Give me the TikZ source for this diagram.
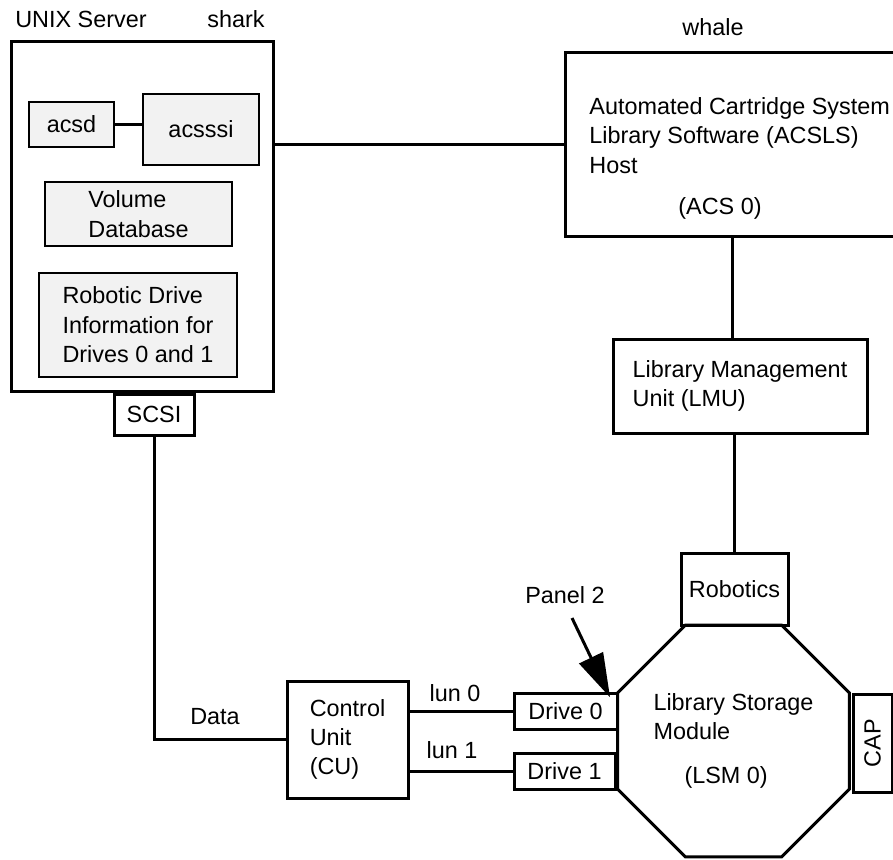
\documentclass[tikz,border=0pt]{standalone}
\usepackage{fontspec}
\setmainfont{Liberation Sans}
\usetikzlibrary{shapes.geometric,arrows.meta}
\definecolor{boxgray}{gray}{0.95}
\tikzset{
  txt/.style={font=\fontsize{11.7}{14.7}\selectfont,inner sep=0pt},
  box/.style={draw,line width=1.5pt},
  graybox/.style={draw,fill=boxgray,line width=1.3pt},
  wire/.style={line width=1.5pt},
}

\begin{document}
\begin{tikzpicture}[x=0.5pt,y=-0.5pt,every node/.style={txt}]
    \useasboundingbox (0,0) rectangle (893,859);
    \clip (0,0) rectangle (893,859);

        \node[anchor=base] (unix) at (81,27) {UNIX Server};
        \node[anchor=base] (shark) at (236,27) {shark};
        \node[anchor=base] (whale) at (713,35) {whale};

        \node[box,minimum width=131pt,minimum height=175pt] (server) at (142,216) {};
        \node[graybox,minimum width=42.5pt,minimum height=22.5pt] (acsd) at (71.5,124.5) {acsd};
        \node[graybox,minimum width=58pt,minimum height=35.5pt] (acsssi) at (201,129.5) {acsssi};
        \node[graybox,minimum width=93.5pt,minimum height=32pt,align=left] (voldb) at (138.5,214) {Volume\\Database};
        \node[graybox,minimum width=99pt,minimum height=52pt,align=left] (drvinfo) at (138,325) {Robotic Drive\\Information for\\Drives 0 and 1};
        \node[box,minimum width=40pt,minimum height=20.5pt] (scsi) at (154,414.5) {SCSI};

        \node[box,minimum width=167.5pt,minimum height=92pt] (host) at (732.5,144) {};
        \node[anchor=north west,align=left] (hosttxt) at (589,97) {Automated Cartridge System\\Library Software (ACSLS)\\Host};
        \node (acs) at (720,208) {(ACS 0)};
        \node[box,minimum width=127pt,minimum height=47pt,align=left] (lmu) at (740,386) {Library Management\\Unit (LMU)};
        \node[box,minimum width=53.5pt,minimum height=36pt] (robotics) at (734.5,589) {Robotics};
        \node[draw,line width=1.5pt,regular polygon,regular polygon sides=8,minimum size=125.5pt,align=left] (lsm) at (733.5,741) {Library Storage\\Module\\[7.5pt]\hspace*{15.5pt}(LSM 0)};
        \node[box,minimum width=49pt,minimum height=19.5pt,rotate=90] (cap) at (872.5,743) {CAP};

        \node[box,minimum width=51.5pt,minimum height=18pt] (drive0) at (565.5,711) {Drive 0};
        \node[box,minimum width=50.5pt,minimum height=18pt] (drive1) at (564.5,771) {Drive 1};
        \node[box,minimum width=60.5pt,minimum height=58.5pt,align=left] (cu) at (347.5,739.5) {Control\\Unit\\(CU)};

        \node (data) at (215,717) {Data};
        \node (lun0) at (455,693) {lun 0};
        \node (lun1) at (452,750) {lun 1};
        \node (panel) at (565,595) {Panel 2};

        \draw[wire] (acsd.east) -- (acsd.east -| acsssi.west);
        \draw[wire] (host.west) -- (host.west -| server.east);
        \draw[wire] (host.south) -- (host.south |- lmu.north);
        \draw[wire] (robotics.north) -- (robotics.north |- lmu.south);
        \draw[wire] (scsi.south) |- (cu.west);
        \draw[wire] (drive0.west) -- (drive0.west -| cu.east);
        \draw[wire] (drive1.west) -- (drive1.west -| cu.east);
        \draw[wire,-{Triangle[length=22pt,width=13pt]}] ([xshift=3.5pt,yshift=-7pt]panel.south) -- ([xshift=-3pt,yshift=-2.5pt]lsm.corner 3);

\end{tikzpicture}
\end{document}
